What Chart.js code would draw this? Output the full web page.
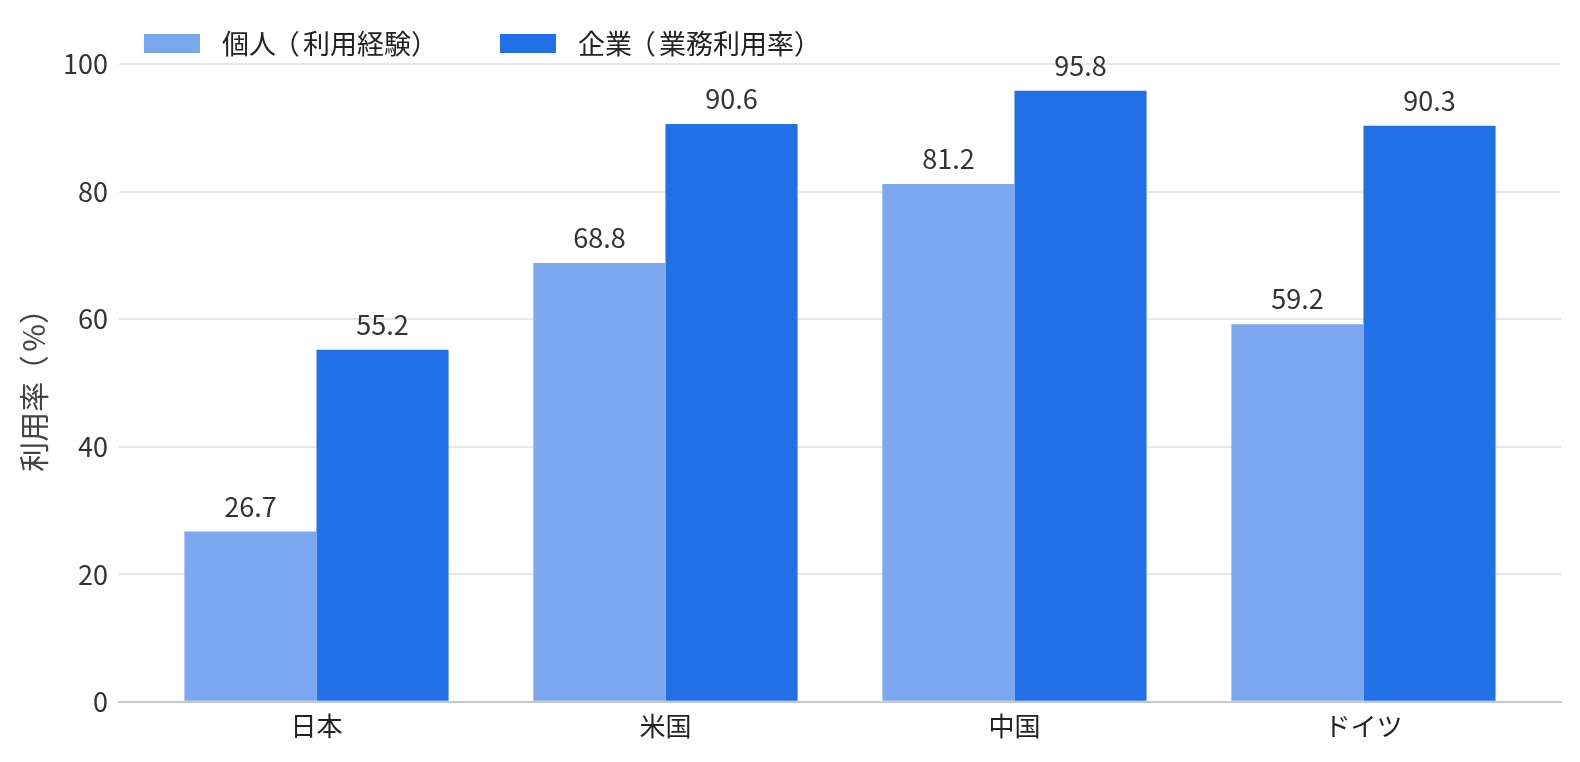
<!DOCTYPE html>
<html lang="ja">
<head>
<meta charset="utf-8">
<script src="https://cdn.jsdelivr.net/npm/chart.js@4.4.0/dist/chart.umd.min.js"></script>
<style>
    html, body { margin: 0; padding: 0; background: #fff; }
    #wrap { width: 1580px; height: 762px; }
</style>
</head>
<body>
<div id="wrap"><canvas id="usageChart"></canvas></div>
<script>
const countries = ['日本', '米国', '中国', 'ドイツ'];
const personalUse = [26.7, 68.8, 81.2, 59.2];
const businessUse = [55.2, 90.6, 95.8, 90.3];
const yTicks = [0, 20, 40, 60, 80, 100];
const yTitle = '利用率（%）';

const FONT = '"Noto Sans CJK JP", "Noto Sans", sans-serif';
const OPENERS = '（「『【〔';

// x is a numeric index so the groups can sit a little in from the plot edges
const toPoints = values => values.map((v, i) => ({ x: i, y: v }));

// draw text char by char so full-width brackets keep a full em;
// opening brackets hug the right side of their cell, as in the reference
function drawWide(ctx, text, x, y, size) {
    for (const ch of text) {
        const w = ctx.measureText(ch).width;
        const wide = ch.codePointAt(0) >= 0x2e80;
        const adv = wide ? Math.max(w, size) : w;
        if (OPENERS.includes(ch)) {
            ctx.textAlign = 'right';
            ctx.fillText(ch, x + adv - size * 0.12, y);
            ctx.textAlign = 'left';
        } else {
            ctx.fillText(ch, x, y);
        }
        x += adv;
    }
    return x;
}
function wideWidth(ctx, text, size) {
    let w = 0;
    for (const ch of text) {
        const m = ctx.measureText(ch).width;
        w += ch.codePointAt(0) >= 0x2e80 ? Math.max(m, size) : m;
    }
    return w;
}

// value labels above each bar
const barLabels = {
    id: 'barLabels',
    afterDatasetsDraw(chart) {
        const ctx = chart.ctx;
        ctx.save();
        ctx.font = `27px ${FONT}`;
        ctx.fillStyle = '#333';
        ctx.textAlign = 'center';
        ctx.textBaseline = 'alphabetic';
        chart.data.datasets.forEach((ds, i) => {
            chart.getDatasetMeta(i).data.forEach((bar, j) => {
                ctx.fillText(ds.data[j].y.toFixed(1), bar.x, bar.y - 15);
            });
        });
        ctx.restore();
    }
};

// legend row + rotated y title
const extraText = {
    id: 'extraText',
    afterDraw(chart) {
        const ctx = chart.ctx;
        const area = chart.chartArea;
        ctx.save();
        ctx.font = `27px ${FONT}`;
        ctx.textBaseline = 'middle';
        ctx.textAlign = 'left';
        let x = area.left + 25;
        const y = 34;
        chart.data.datasets.forEach(ds => {
            ctx.fillStyle = ds.backgroundColor;
            ctx.fillRect(x, y, 56, 19);
            ctx.fillStyle = '#222';
            x = drawWide(ctx, ds.label, x + 78, y + 10, 27) + 62;
        });

        ctx.font = `30px ${FONT}`;
        ctx.fillStyle = '#444';
        ctx.translate(34, (area.top + area.bottom) / 2);
        ctx.rotate(-Math.PI / 2);
        drawWide(ctx, yTitle, -wideWidth(ctx, yTitle, 30) / 2, 0, 30);
        ctx.restore();
    }
};

Chart.defaults.font.family = FONT;

new Chart(document.getElementById('usageChart'), {
    type: 'bar',
    data: {
        datasets: [
            {
                label: '個人（利用経験）',
                data: toPoints(personalUse),
                backgroundColor: '#7ba7ef',
                categoryPercentage: 0.757,
                barPercentage: 1
            },
            {
                label: '企業（業務利用率）',
                data: toPoints(businessUse),
                backgroundColor: '#2170e8',
                categoryPercentage: 0.757,
                barPercentage: 1
            }
        ]
    },
    options: {
        responsive: true,
        maintainAspectRatio: false,
        animation: false,
        layout: { padding: { left: 7, right: 19, top: 64, bottom: 19 } },
        plugins: {
            legend: { display: false },
            tooltip: { enabled: false }
        },
        scales: {
            x: {
                type: 'linear',
                offset: false,
                min: -0.566,
                max: countries.length - 1 + 0.566,
                afterBuildTicks: axis => { axis.ticks = countries.map((c, i) => ({ value: i })); },
                grid: { display: false },
                border: { display: true, color: '#c8c8c8', width: 2 },
                ticks: {
                    color: '#222',
                    font: { size: 26 },
                    padding: 1,
                    autoSkip: false,
                    maxRotation: 0,
                    callback: value => countries[value]
                }
            },
            y: {
                min: 0,
                max: 100,
                afterBuildTicks: axis => { axis.ticks = yTicks.map(v => ({ value: v })); },
                grid: { color: '#e4e7f0', lineWidth: 2, drawTicks: false },
                border: { display: false },
                ticks: { color: '#333', font: { size: 27 }, padding: 11 },
                // keeps room for the title; the visible one is drawn by extraText
                title: {
                    display: true,
                    text: yTitle,
                    color: 'rgba(0,0,0,0)',
                    font: { size: 30 },
                    padding: { top: 9, bottom: 0 }
                }
            }
        }
    },
    plugins: [barLabels, extraText]
});
</script>
</body>
</html>
